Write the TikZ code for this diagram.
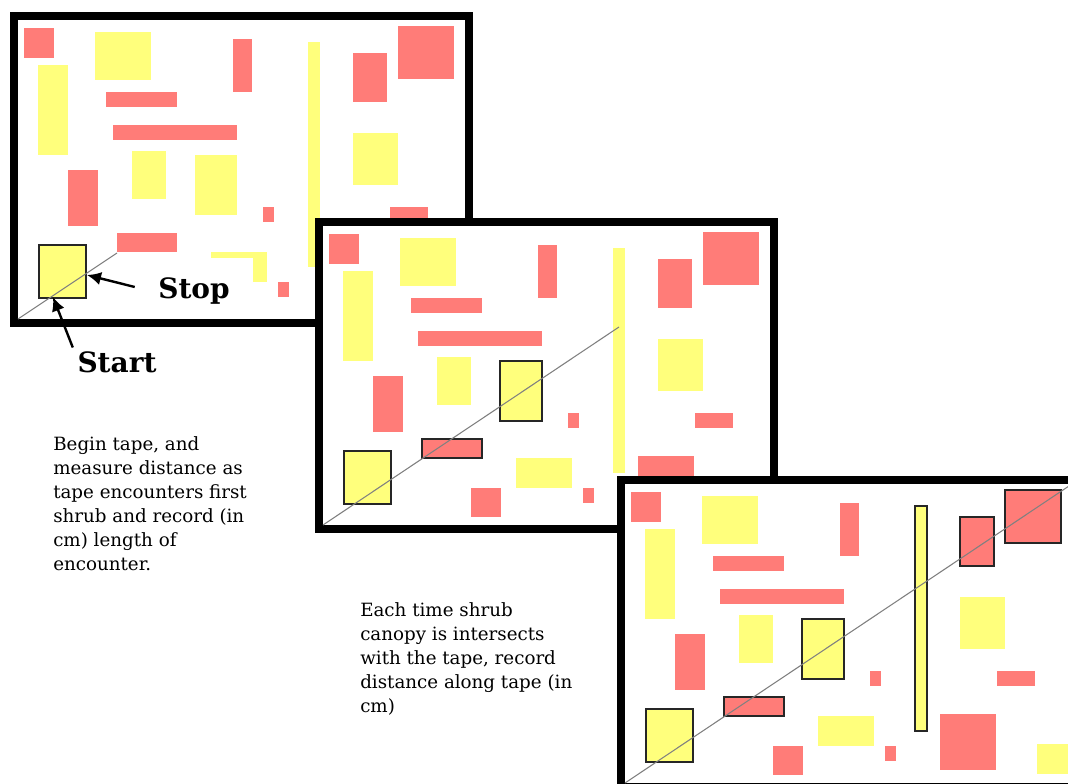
\documentclass[tikz,border=0pt]{standalone}
\usepackage{fontspec}
\setmainfont{DejaVu Serif}
\usetikzlibrary{arrows.meta}
\definecolor{rosa}{HTML}{FF7C78}
\definecolor{amar}{HTML}{FFFF7C}

% shrubs of the plot, in px from the inner corner of a frame
\newcommand{\arbustos}{%
  \foreach \xa/\ya/\xb/\yb in {6/8/36/38,88/72/159/87,215/19/234/72,335/33/369/82,
      380/6/436/59,95/105/219/120,50/150/80/206,245/187/256/202,372/187/410/202,
      99/213/159/232,315/230/371/286,148/262/178/291,260/262/271/277}
    \fill[matarosa] (\xa,\ya) rectangle (\xb,\yb);
  \foreach \xa/\ya/\xb/\yb in {77/12/133/60,20/45/50/135,290/22/302/247,114/131/148/179,
      177/135/219/195,335/113/380/165,21/225/68/278,193/232/249/262,412/260/447/290}
    \fill[mataamar] (\xa,\ya) rectangle (\xb,\yb);}

\begin{document}
\begin{tikzpicture}[x=0.75pt,y=-0.75pt,
  marco/.style={draw=black,fill=white,line width=6pt},
  matarosa/.style={fill=rosa},
  mataamar/.style={fill=amar},
  marcada/.style={draw=black!85,line width=1.1pt},
  cinta/.style={draw=black!50,line width=0.8pt},
  flecha/.style={-{Latex[length=10.5pt,width=10pt]},line width=1.8pt},
  rotulo/.style={font=\fontsize{21}{25}\selectfont\bfseries},
  nota/.style={font=\fontsize{13.7}{18}\selectfont,align=left,anchor=north west,inner sep=0pt}]
  \useasboundingbox (0,0) rectangle (1068,784);
  \clip (0,0) rectangle (1068,784);
  % first plot: tape up to the first shrub
  \begin{scope}[shift={(18,20)}]
    \draw[marco] (-4,-4) rectangle (451,303);
    \arbustos
    \draw[marcada] (21,225) rectangle (68,278);
    \coordinate (ini1) at (0,299);
    \coordinate (fin1) at (99,233);
    \coordinate (entrada) at (35,277);
    \coordinate (salida) at (69,255);
    \draw[cinta] (ini1) -- (fin1);
  \end{scope}
  \node[rotulo,fill=white,inner sep=0pt,minimum width=88.5pt,text height=30.75pt,
        text depth=12.75pt,anchor=base] (stop) at (194,299) {Stop};
  \node[rotulo,anchor=base] (start) at (117,373) {Start};
  \draw[flecha] (stop.west) -- (salida);
  \draw[flecha] (start.north west) -- (entrada);
  % second plot
  \begin{scope}[shift={(323,226)}]
    \draw[marco] (-4,-4) rectangle (451,303);
    \arbustos
    \draw[marcada] (21,225) rectangle (68,278) (99,213) rectangle (159,232)
                   (177,135) rectangle (219,195);
    \coordinate (ini2) at (0,299);
    \coordinate (fin2) at (296,101);
    \draw[cinta] (ini2) -- (fin2);
  \end{scope}
  % third plot: whole tape
  \begin{scope}[shift={(625,484)}]
    \draw[marco] (-4,-4) rectangle (451,303);
    \arbustos
    \draw[marcada] (21,225) rectangle (68,278) (99,213) rectangle (159,232)
                   (177,135) rectangle (219,195) (290,22) rectangle (302,247)
                   (335,33) rectangle (369,82) (380,6) rectangle (436,59);
    \coordinate (ini3) at (0,299);
    \coordinate (fin3) at (447,0);
    \draw[cinta] (ini3) -- (fin3);
  \end{scope}
  \node[nota] (texto1) at (53,436) {Begin tape, and\\measure distance as\\tape encounters first\\
     shrub and record (in\\cm) length of\\encounter.};
  \node[nota] (texto2) at (360,602) {Each time shrub\\canopy is intersects\\with the tape, record\\
     distance along tape (in\\cm)};
\end{tikzpicture}
\end{document}
